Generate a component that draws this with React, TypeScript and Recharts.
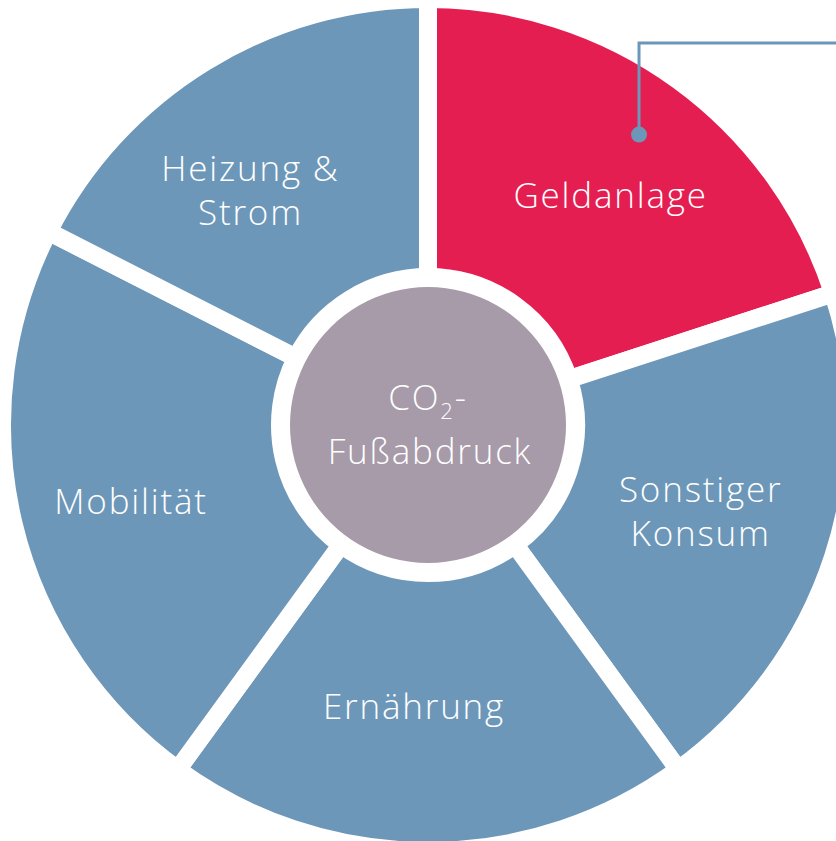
import React from 'react';
import { PieChart, Pie, Cell } from 'recharts';

const categories = ['Geldanlage', 'Sonstiger Konsum', 'Ernährung', 'Mobilität', 'Heizung & Strom'];
const shares = [20, 20, 20, 22.5, 17.5];
const labelLines = [['Geldanlage'], ['Sonstiger', 'Konsum'], ['Ernährung'], ['Mobilität'], ['Heizung &', 'Strom']];
const highlighted = 'Geldanlage';
const centerValue = [1];

const BLUE = '#6d97b9';
const RED = '#e51e52';
const GREY = '#a79aa9';
const FONT = '"Open Sans", Lato, sans-serif';

const data = categories.map((name, i) => ({ name, value: shares[i], lines: labelLines[i] }));

const RAD = Math.PI / 180;
// small hand nudges so the labels sit where the original puts them
const nudge = [[11, 5], [-5, -5], [-14, -12], [-13, 7], [-25, 13]];

const renderSliceLabel = (props: any) => {
  const { cx, cy, midAngle, index } = props;
  const r = 292;
  const x = cx + r * Math.cos(-midAngle * RAD) + nudge[index][0];
  const y = cy + r * Math.sin(-midAngle * RAD) + nudge[index][1];
  const lines: string[] = data[index].lines;
  const lh = 44;
  const y0 = y - ((lines.length - 1) * lh) / 2;
  const isHi = data[index].name === highlighted;
  const dr = 359;
  const dx = cx + dr * Math.cos(-midAngle * RAD);
  const dy = cy + dr * Math.sin(-midAngle * RAD);
  return (
    <g key={`lbl-${index}`}>
      <text x={x} y={y0} fill="#fff" textAnchor="middle" dominantBaseline="central" fontFamily={FONT} fontWeight={300} fontSize={35} letterSpacing={1.8}>
        {lines.map((l, k) => (
          <tspan key={k} x={x} dy={k === 0 ? 0 : lh}>{l}</tspan>
        ))}
      </text>
      {isHi && (
        <g>
          <polyline points={`${dx},${dy} ${dx},${cy - 382} 836,${cy - 382}`} fill="none" stroke={BLUE} strokeWidth={3} />
          <circle cx={dx} cy={dy} r={8} fill={BLUE} />
        </g>
      )}
    </g>
  );
};

const renderCenterLabel = (props: any) => {
  const { cx, cy } = props;
  return (
    <text key="center" x={cx} y={cy} fill="#fff" textAnchor="middle" fontFamily={FONT} fontWeight={300} fontSize={35} letterSpacing={1.8}>
      <tspan x={cx} dy={-15}>CO<tspan fontSize={22} dy={9}>2</tspan><tspan dy={-9}>-</tspan></tspan>
      <tspan x={cx + 2} dy={54}>Fußabdruck</tspan>
    </text>
  );
};

export default function App() {
  return (
    <div style={{ position: 'absolute', left: 0, top: 0, width: 836, height: 841, background: '#fff' }}>
      <PieChart width={836} height={841} margin={{ top: 0, right: 0, bottom: 0, left: 0 }}>
        <Pie
          data={data}
          dataKey="value"
          nameKey="name"
          cx={428}
          cy={425}
          innerRadius={148}
          outerRadius={426}
          startAngle={90}
          endAngle={-270}
          stroke="#fff"
          strokeWidth={18}
          label={renderSliceLabel}
          labelLine={false}
          isAnimationActive={false}
        >
          {data.map((d) => (
            <Cell key={d.name} fill={d.name === highlighted ? RED : BLUE} />
          ))}
        </Pie>
        <Pie
          data={centerValue.map((v) => ({ name: 'CO2', value: v }))}
          dataKey="value"
          cx={428}
          cy={425}
          innerRadius={0}
          outerRadius={138}
          stroke="none"
          fill={GREY}
          label={renderCenterLabel}
          labelLine={false}
          isAnimationActive={false}
        />
      </PieChart>
    </div>
  );
}
